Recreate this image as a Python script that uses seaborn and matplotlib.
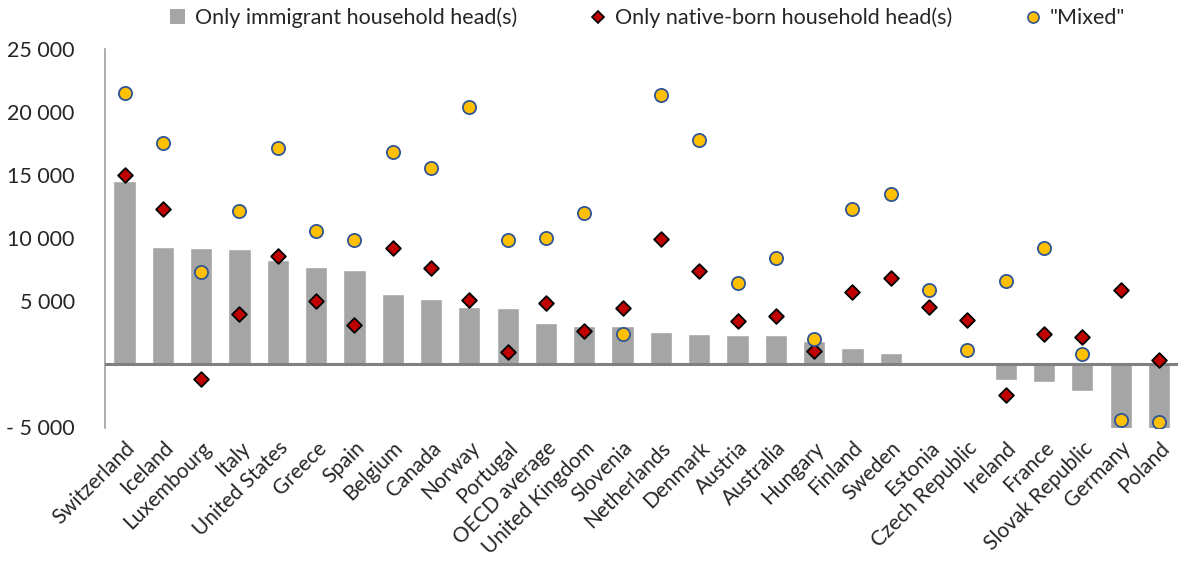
import matplotlib
matplotlib.use("Agg")
import matplotlib.pyplot as plt
from matplotlib.lines import Line2D
from matplotlib.patches import Patch
from matplotlib.ticker import FuncFormatter
import pandas as pd
import seaborn as sns

# Values
countries = ["Switzerland", "Iceland", "Luxembourg", "Italy", "United States", "Greece",
             "Spain", "Belgium", "Canada", "Norway", "Portugal", "OECD average",
             "United Kingdom", "Slovenia", "Netherlands", "Denmark", "Austria", "Australia",
             "Hungary", "Finland", "Sweden", "Estonia", "Czech Republic", "Ireland",
             "France", "Slovak Republic", "Germany", "Poland"]
immigrant = [14520, 9270, 9160, 9110, 8260, 7710, 7470, 5540, 5150, 4490, 4435, 3270,
             3010, 2980, 2530, 2375, 2320, 2270, 1850, 1290, 870, 20, -210, -1270,
             -1450, -2190, -5300, -5300]
native = [14970, 12280, -1240, 3980, 8530, 4990, 3090, 9160, 7580, 5070, 975, 4860,
          2590, 4435, 9920, 7340, 3380, 3780, 1030, 5700, 6810, 4490, 3460, -2510,
          2400, 2110, 5880, 290]
mixed = [21460, 17560, 7260, 12120, 17160, 10510, 9850, 16840, 15500, 20380, 9820, 9950,
         11960, 2375, 21300, 17740, 6440, 8370, 1930, 12280, 13490, 5880, 1130, 6550,
         9160, 770, -4435, -4620]

labels = ["Only immigrant household head(s)", "Only native-born household head(s)", '"Mixed"']

df = pd.DataFrame({"country": countries, "immigrant": immigrant,
                   "native": native, "mixed": mixed})

sns.set_style("white")
plt.rcParams["font.family"] = ["Lato", "DejaVu Sans"]

fig = plt.figure(figsize=(11.84, 5.67), dpi=100)
ax = fig.add_axes([0.089, 0.245, 0.906, 0.669])

bar_grey = "#A5A5A5"
red = "#C00000"
yellow = "#FFC000"
blue = "#2F5597"

sns.barplot(data=df, x="country", y="immigrant", color=bar_grey, width=0.58,
            saturation=1, ax=ax)
sns.stripplot(data=df, x="country", y="native", jitter=False, marker="D", size=7.5,
              color=red, edgecolor="black", linewidth=1.3, ax=ax, zorder=4)
sns.stripplot(data=df, x="country", y="mixed", jitter=False, marker="o", size=9.5,
              color=yellow, edgecolor=blue, linewidth=1.3, ax=ax, zorder=4)

ax.set_xlim(-0.5, len(countries) - 0.5)
ax.set_ylim(-5100, 25000)
ax.set_yticks([-5000, 5000, 10000, 15000, 20000, 25000])


def fmt(v, pos):
    s = f"{abs(int(v)):,}".replace(",", " ")
    return ("- " + s) if v < 0 else s


ax.yaxis.set_major_formatter(FuncFormatter(fmt))
ax.tick_params(axis="y", labelsize=15.5, length=0, pad=22)
ax.tick_params(axis="x", labelsize=15, length=0, pad=7)
plt.setp(ax.get_xticklabels(), rotation=45, ha="right", rotation_mode="anchor")
ax.set_xlabel("")
ax.set_ylabel("")

for side in ["top", "right", "bottom"]:
    ax.spines[side].set_visible(False)
ax.spines["left"].set_color("#A0A0A0")
ax.spines["left"].set_linewidth(1.2)
ax.axhline(0, color="#808080", linewidth=2.2, zorder=3)

handles = [
    Patch(facecolor=bar_grey, edgecolor="none"),
    Line2D([], [], marker="D", linestyle="none", markersize=6, markerfacecolor=red,
           markeredgecolor="black", markeredgewidth=1.2),
    Line2D([], [], marker="o", linestyle="none", markersize=8, markerfacecolor=yellow,
           markeredgecolor=blue, markeredgewidth=1.2),
]
fig.legend(handles, labels, loc="center", bbox_to_anchor=(0.547, 0.968), ncol=3,
           frameon=False, fontsize=15.5, handlelength=0.7, handleheight=0.7,
           handletextpad=0.45, columnspacing=3.4)

fig.savefig("out.png", dpi=100)
